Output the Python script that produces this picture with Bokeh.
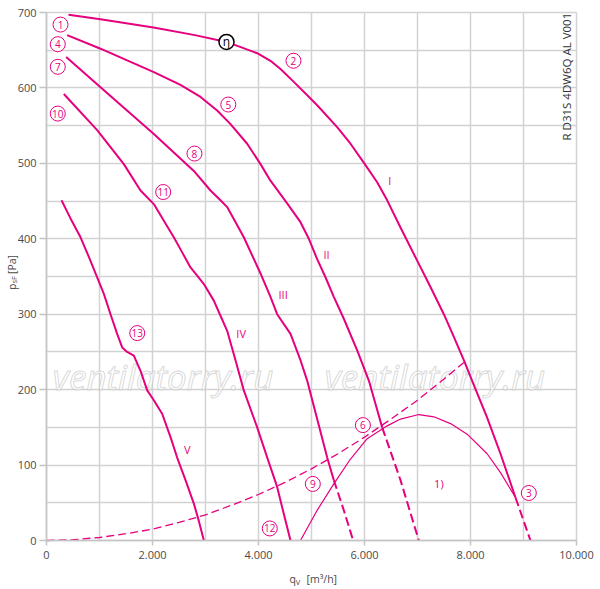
from math import pi
from bokeh.plotting import figure
from bokeh.models import Range1d, FixedTicker, Label
from bokeh.core.properties import value
from bokeh.embed import file_html
from bokeh.resources import INLINE

MAG = "#e6007e"
FONT = "Open Sans"

# ---- data ----
x_ticks = [0, 2000, 4000, 6000, 8000, 10000]
x_tick_labels = ["0", "2.000", "4.000", "6.000", "8.000", "10.000"]
y_ticks = [0, 100, 200, 300, 400, 500, 600, 700]
y_tick_labels = ["0", "100", "200", "300", "400", "500", "600", "700"]

curve_I_q = [415, 1019, 2019, 2800, 3396, 3975, 4226, 4415, 4666, 4981, 5107, 5484, 5736, 6006, 6239, 6428,
             6679, 6994, 7245, 7497, 7686, 7874, 8104, 8314, 8566, 8849]
curve_I_p = [697, 691, 680, 670, 661, 646, 636, 625, 608, 586, 577, 548, 526, 499, 475, 451,
             415, 371, 336, 300, 270, 239, 199, 163, 115, 57]
curve_I_ext_q = [8849, 9132]
curve_I_ext_p = [57, 0]

curve_II_q = [390, 1019, 2025, 2528, 2906, 3220, 3472, 3786, 4038, 4226, 4541, 4792, 4950, 5107, 5264,
              5421, 5610, 5862, 6082, 6208, 6333]
curve_II_p = [670, 652, 621, 604, 588, 570, 552, 526, 499, 477, 447, 422, 400, 373, 349,
              323, 294, 252, 212, 181, 150]
curve_II_ext_q = [6333, 6679, 7025]
curve_II_ext_p = [150, 80, 0]

curve_III_q = [371, 1019, 2025, 2780, 3094, 3283, 3409, 3723, 4038, 4226, 4352, 4604, 4792, 4918, 5107,
               5296, 5421]
curve_III_p = [641, 601, 539, 490, 464, 451, 442, 402, 354, 323, 300, 274, 239, 212, 161,
               110, 80]
curve_III_ext_q = [5421, 5610, 5786]
curve_III_ext_p = [80, 40, 0]

curve_IV_q = [327, 956, 1459, 1774, 2025, 2214, 2402, 2560, 2717, 2843, 2969, 3157, 3283, 3409, 3566,
              3723, 3975, 4164, 4352, 4478, 4604]
curve_IV_p = [592, 544, 499, 464, 446, 424, 402, 382, 362, 351, 340, 318, 298, 278, 239,
              199, 150, 110, 71, 35, 0]

curve_V_q = [283, 453, 642, 799, 956, 1082, 1208, 1333, 1428, 1522, 1648, 1774, 1900, 2025, 2182, 2340,
             2465, 2623, 2780, 2874, 2969]
curve_V_p = [451, 427, 402, 376, 349, 327, 300, 274, 256, 250, 245, 225, 199, 186, 168, 137,
             110, 80, 49, 26, 0]

eff_q = [4792, 5107, 5421, 5736, 6050, 6428, 6679, 7025, 7308, 7623, 7937, 8314, 8566, 8849]
eff_p = [0, 40, 75, 108, 135, 152, 161, 167, 164, 155, 141, 115, 90, 57]

sys_q = [0, 500, 1000, 1500, 2000, 2500, 3000, 3500, 4000, 4500, 5000, 5500, 6000, 6500, 7000, 7500, 7874]
sys_p = [0, 1, 4, 9, 15, 24, 34, 47, 61, 77, 95, 115, 137, 161, 186, 214, 236]

marker_text = ["1", "2", "3", "4", "5", "6", "7", "8", "9", "10", "11", "12", "13"]
marker_q = [264, 4660, 9100, 213, 3430, 5970, 213, 2792, 5025, 213, 2202, 4213, 1712]
marker_p = [684, 636, 63, 658, 578, 153, 628, 513, 75, 566, 462, 16, 275]

eta_q = [3396]
eta_p = [661]

roman_text = ["I", "II", "III", "IV", "V", "1)"]
roman_q = [6478, 5283, 4465, 3673, 2654, 7403]
roman_p = [477, 379, 326, 274, 121, 76]

watermark_text = ["ventilatorry.ru", "ventilatorry.ru"]
watermark_q = [2200, 7330]
watermark_p = [218, 218]

model_code = "R D31S 4DW6Q AL V001"

# ---- layout constants (pixel -> data unit) ----
QPX = 10000 / 530.0   # flow units per pixel
PPX = 700 / 528.0     # pressure units per pixel

# ---- figure: frame covers the canvas, axes fixed at the data origin ----
p = figure(width=600, height=589,
           x_range=Range1d(-46 * QPX, 554 * QPX), y_range=Range1d(-49 * PPX, 540 * PPX),
           output_backend="svg", toolbar_location=None, min_border=0)
p.background_fill_color = "white"
p.border_fill_color = "white"
p.outline_line_color = None

p.xaxis.fixed_location = 0
p.yaxis.fixed_location = 0
p.xaxis.bounds = (0, 10000)
p.yaxis.bounds = (0, 700)
p.xaxis.ticker = FixedTicker(ticks=x_ticks)
p.yaxis.ticker = FixedTicker(ticks=y_ticks)
p.xaxis.major_label_overrides = {t: l for t, l in zip(x_ticks, x_tick_labels)}
p.yaxis.major_label_overrides = {t: l for t, l in zip(y_ticks, y_tick_labels)}
p.xgrid.ticker = FixedTicker(ticks=list(range(0, 10001, 1000)))
p.ygrid.ticker = FixedTicker(ticks=list(range(0, 701, 50)))
p.xgrid.bounds = (-1, 10001)
p.ygrid.bounds = (-1, 701)
p.xgrid.cross_bounds = (0, 700)
p.ygrid.cross_bounds = (0, 10000)
for g in (p.xgrid, p.ygrid):
    g.grid_line_color = "#d2d2d2"
    g.grid_line_width = 1.5
for ax in (p.xaxis, p.yaxis):
    ax.axis_line_color = "#c4c4c4"
    ax.axis_line_width = 1.5
    ax.major_tick_line_color = "#c4c4c4"
    ax.major_tick_line_width = 1.5
    ax.major_tick_in = 0
    ax.minor_tick_line_color = None
    ax.major_label_text_font = FONT
    ax.major_label_text_font_size = "11px"
    ax.major_label_text_color = "#4a4a4a"
p.xaxis.major_tick_out = 5
p.xaxis.major_label_standoff = 5
p.yaxis.major_tick_out = 7
p.yaxis.major_label_standoff = 3

# watermark
p.text(watermark_q, watermark_p, text=watermark_text, text_align="center", text_baseline="middle",
       text_font=value(FONT), text_font_size="35px", text_font_style="italic",
       text_color="white", text_alpha=0.6, text_outline_color="#c0c0c0")

# system curve (dashed)
p.line(sys_q, sys_p, line_color=MAG, line_width=1.3, line_dash="8 4")
# efficiency curve
p.line(eff_q, eff_p, line_color=MAG, line_width=1.2, line_join="round")

# fan curves
for q, pp in [(curve_I_q, curve_I_p), (curve_II_q, curve_II_p), (curve_III_q, curve_III_p),
              (curve_IV_q, curve_IV_p), (curve_V_q, curve_V_p)]:
    p.line(q, pp, line_color=MAG, line_width=2, line_join="round")
for q, pp in [(curve_I_ext_q, curve_I_ext_p), (curve_II_ext_q, curve_II_ext_p),
              (curve_III_ext_q, curve_III_ext_p)]:
    p.line(q, pp, line_color=MAG, line_width=2, line_dash="9 4")

# circled markers
p.scatter(marker_q, marker_p, marker="circle", size=15, fill_color="white",
          line_color=MAG, line_width=1)
p.text(marker_q, marker_p, text=marker_text, text_align="center", text_baseline="middle",
       text_font=value(FONT), text_font_size="10px", text_color=MAG)
p.scatter(eta_q, eta_p, marker="circle", size=15, fill_color="white",
          line_color="black", line_width=1.5)
p.text(eta_q, eta_p, text=["η"], text_align="center", text_baseline="middle",
       text_font=value(FONT), text_font_size="12px", text_color="black")

# roman labels
p.text(roman_q, roman_p, text=roman_text, text_align="center", text_baseline="middle",
       text_font=value(FONT), text_font_size="11px", text_color=MAG)

# model code (vertical)
p.add_layout(Label(x=(566 - 46) * QPX, y=(540 - 140) * PPX, text=model_code, angle=pi / 2,
                   text_align="left", text_baseline="middle", text_font=FONT,
                   text_font_size="11.5px", text_color="#333333"))

# axis titles with subscripts
lab_col = "#4a4a4a"
def dlabel(px, py, text, size, angle=0.0):
    p.add_layout(Label(x=(px - 46) * QPX, y=(540 - py) * PPX, text=text, angle=angle,
                       text_align="left", text_baseline="middle", text_font=FONT,
                       text_font_size=size, text_color=lab_col))

dlabel(289, 578.5, "q", "10.5px")
dlabel(295.2, 581, "V", "7.5px")
dlabel(306, 578.5, "[m³/h]", "10.5px")
dlabel(11, 289.5, "p", "10.5px", pi / 2)
dlabel(13.5, 283, "sF", "7.5px", pi / 2)
dlabel(11, 273.5, "[Pa]", "10.5px", pi / 2)

open("out.html", "w").write(file_html(p, INLINE))
